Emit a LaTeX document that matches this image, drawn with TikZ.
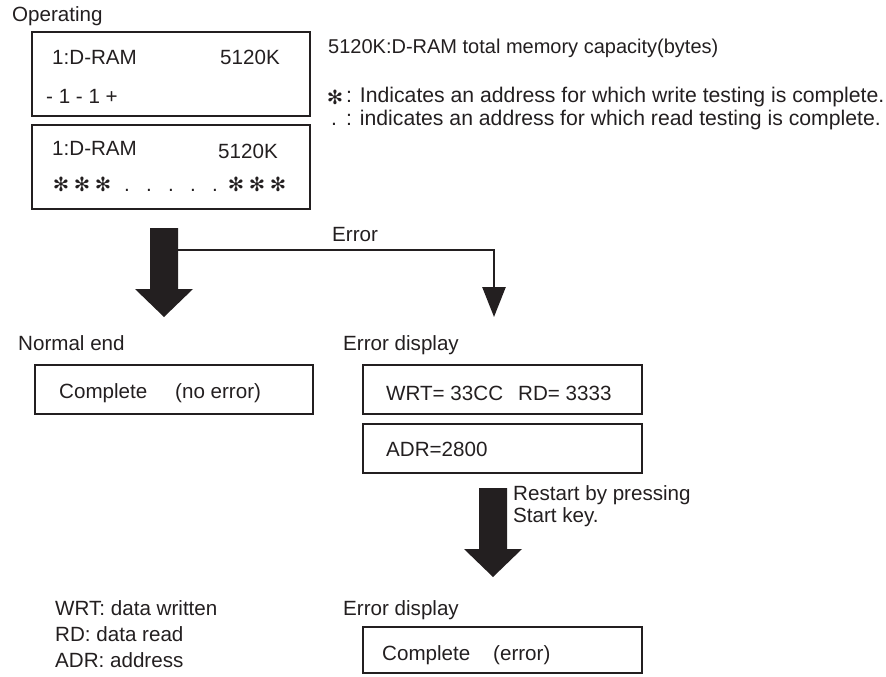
\documentclass[tikz,border=0pt]{standalone}
\usepackage{fontspec}
\setmainfont{Liberation Sans}
\newfontfamily\symfont{DejaVu Sans}
\usetikzlibrary{arrows.meta,positioning}
\definecolor{ink}{HTML}{231F20}

\tikzset{
  txt/.style={anchor=base west, inner sep=0pt, text=ink, font=\fontsize{20.6}{18}\selectfont},
  wide/.style={font=\fontsize{21.2}{18}\selectfont},
  box/.style={draw=ink, line width=2pt, inner sep=0pt},
  astx/.style={inner sep=0pt, text=ink, font=\symfont\fontsize{19.5}{19}\selectfont},
  errline/.style={draw=ink, line width=2.6pt, -{Triangle[width=23pt,length=30pt]}}
}

\begin{document}
\begin{tikzpicture}[x=1pt,y=-1pt]
\useasboundingbox (0,0) rectangle (886,677);

% operating display
\node[txt] (oplbl) at (12,22) {Operating};
\node[box, minimum width=278pt, minimum height=84pt] (opA) at (171,74) {};
\node[box, minimum width=278pt, minimum height=84pt] (opB) at (171,167) {};
\node[txt] (opA1) at (52,65) {1:D-RAM};
\node[txt] (opA2) at (220,65) {5120K};
\node[txt] (opA3) at (46,103) {- 1 - 1 +};
\node[txt] (opB1) at (52,155) {1:D-RAM};
\node[txt] (opB2) at (218,158) {5120K};
\foreach \x in {61,82,103,236,257,278}
  \node[astx] at (\x,184) {✻};
\foreach \x in {127,149,171,193,215}
  \node[txt] at (\x-3,191) {.};

% legend
\node[txt, font=\fontsize{20}{18}\selectfont] (capnote) at (328,54) {5120K:D-RAM total memory capacity(bytes)};
\node[astx] (wrsym) at (335,97) {✻};
\node[txt, wide] (wrnote) at (346,102) {: Indicates an address for which write testing is complete.};
\node[txt, wide] (rdsym) at (331,125) {.};
\node[txt, wide] (rdnote) at (346,125) {: indicates an address for which read testing is complete.};

% big arrows
\foreach \c/\t/\b in {164/228/317,493/488/577}
  \fill[ink] (\c-14,\t) -- (\c+14,\t) -- (\c+14,\b-28) -- (\c+29,\b-28)
    -- (\c,\b) -- (\c-29,\b-28) -- (\c-14,\b-28) -- cycle;

% error branch
\coordinate (errfrom) at (177,250);
\coordinate (errto) at (494,317);
\draw[errline] (errfrom) -| (errto);
\node[txt] (errlbl) at (332,241) {Error};

% results
\node[txt] (normlbl) at (18,350) {Normal end};
\node[box, minimum width=278pt, minimum height=49pt] (okbox) at (174,389.5) {};
\node[txt] (ok1) at (59,398) {Complete};
\node[txt] (ok2) at (175,398) {(no error)};

\node[txt] (errdisp) at (343,350) {Error display};
\node[box, minimum width=279pt, minimum height=49pt] (errA) at (502.5,389.5) {};
\node[box, minimum width=279pt, minimum height=49pt] (errB) at (502.5,448.5) {};
\node[txt] (errA1) at (386,400) {WRT= 33CC};
\node[txt] (errA2) at (518,400) {RD= 3333};
\node[txt] (errB1) at (386,456) {ADR=2800};

\node[txt] (restart1) at (513,500) {Restart by pressing};
\node[txt] (restart2) at (513,522) {Start key.};

\node[txt] (errdisp2) at (343,615) {Error display};
\node[box, minimum width=279pt, minimum height=46pt] (donebox) at (502.5,650) {};
\node[txt] (done1) at (382,660) {Complete};
\node[txt] (done2) at (493,660) {(error)};

\node[txt] (keyW) at (55,615) {WRT: data written};
\node[txt] (keyR) at (55,641) {RD: data read};
\node[txt] (keyA) at (55,667) {ADR: address};
\end{tikzpicture}
\end{document}
